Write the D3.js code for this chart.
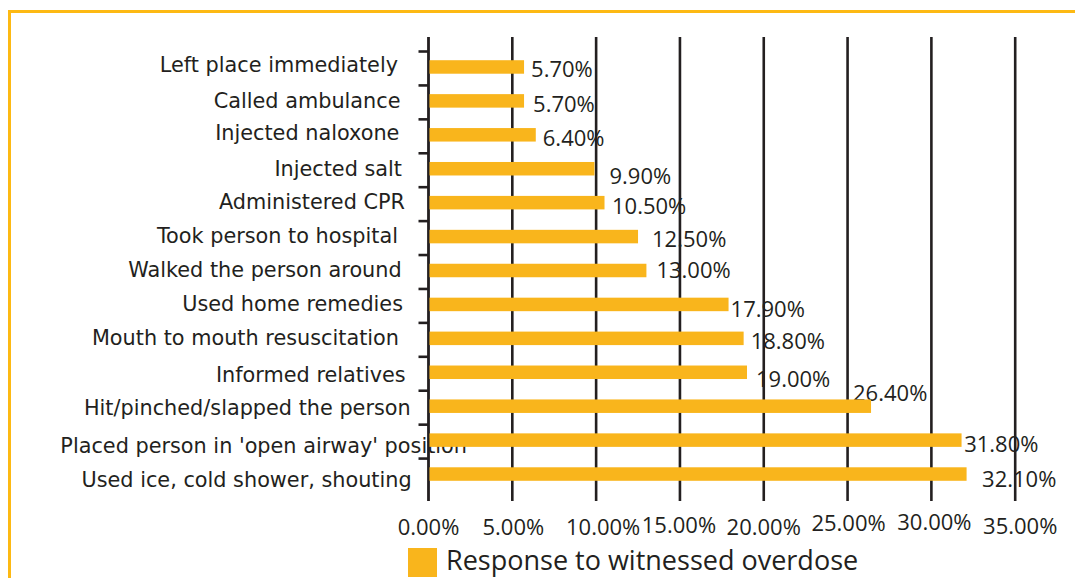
<!DOCTYPE html>
<html>
<head>
<meta charset="utf-8">
<script src="https://cdn.jsdelivr.net/npm/d3@7"></script>
<style>
  html, body { margin: 0; padding: 0; background: #ffffff; }
  svg { display: block; }
</style>
</head>
<body>
<svg id="chart" width="1075" height="578"></svg>
<script>
// ---- data ----
const categories = [
  "Left place immediately",
  "Called ambulance",
  "Injected naloxone",
  "Injected salt",
  "Administered CPR",
  "Took person to hospital",
  "Walked the person around",
  "Used home remedies",
  "Mouth to mouth resuscitation",
  "Informed relatives",
  "Hit/pinched/slapped the person",
  "Placed person in 'open airway' position",
  "Used ice, cold shower, shouting"
];
const values = [5.7, 5.7, 6.4, 9.9, 10.5, 12.5, 13.0, 17.9, 18.8, 19.0, 26.4, 31.8, 32.1];
const valueLabels = ["5.70%", "5.70%", "6.40%", "9.90%", "10.50%", "12.50%", "13.00%",
                     "17.90%", "18.80%", "19.00%", "26.40%", "31.80%", "32.10%"];
const tickValues = [0, 5, 10, 15, 20, 25, 30, 35];
const tickLabels = ["0.00%", "5.00%", "10.00%", "15.00%", "20.00%", "25.00%", "30.00%", "35.00%"];
const seriesName = "Response to witnessed overdose";

// ---- layout / style (not data) ----
const valueLabelNudge = [[7,10],[9,11],[7,11],[15,15],[7.5,11],[14,10],[10,7],[2,13],[7,11],[9,15],[-18,-5],[2.6,12],[15.5,12.5]];
const catLabelNudge = [[-2,5],[0.5,7],[-0.6,5],[2,7],[5,6],[-2,6.5],[1.7,6.5],[3,6.3],[-1,6.6],[5.7,9.4],[10.7,8.8],[67,12.6],[11.7,12.7]];
const tickLabelNudge = [[0,0],[1,0],[7,0],[-1,-2],[0,0],[1,-4],[3,-5],[5,-1]];

const barColor = "#F9B51C";
const frameColor = "#FDB913";
const ink = "#231F20";

const svg = d3.select("#chart");

// frame
svg.append("rect")
  .attr("x", 9.5).attr("y", 11.5)
  .attr("width", 1200).attr("height", 700)
  .attr("fill", "none")
  .attr("stroke", frameColor)
  .attr("stroke-width", 3);

const x = d3.scaleLinear().domain([0, 35]).range([428.5, 1015.2]);
const y = d3.scaleBand().domain(categories).range([50, 491]).paddingInner(0).paddingOuter(0);
const barH = 13.5;
const axisTop = 37, axisBottom = 501;

// category labels (under everything)
svg.append("g").selectAll("text")
  .data(categories)
  .join("text")
  .attr("x", (d, i) => 400 + catLabelNudge[i][0])
  .attr("y", (d, i) => y(d) + y.bandwidth() / 2 + catLabelNudge[i][1])
  .attr("text-anchor", "end")
  .attr("font-family", "'DejaVu Sans', sans-serif")
  .attr("font-size", 20.8)
  .attr("fill", ink)
  .text(d => d);

// value labels
svg.append("g").selectAll("text")
  .data(values)
  .join("text")
  .attr("x", (d, i) => x(d) + valueLabelNudge[i][0])
  .attr("y", (d, i) => y(categories[i]) + y.bandwidth() / 2 + valueLabelNudge[i][1])
  .attr("font-family", "'Open Sans', sans-serif")
  .attr("font-size", 22)
  .attr("fill", ink)
  .text((d, i) => valueLabels[i]);

// gridlines
svg.append("g").selectAll("line")
  .data(tickValues.slice(1))
  .join("line")
  .attr("x1", d => x(d)).attr("x2", d => x(d))
  .attr("y1", axisTop).attr("y2", axisBottom)
  .attr("stroke", ink)
  .attr("stroke-width", 2.6);

// x tick labels
svg.append("g").selectAll("text")
  .data(tickValues)
  .join("text")
  .attr("x", (d, i) => x(d) + tickLabelNudge[i][0])
  .attr("y", (d, i) => 535 + tickLabelNudge[i][1])
  .attr("text-anchor", "middle")
  .attr("font-family", "'Open Sans', sans-serif")
  .attr("font-size", 22)
  .attr("fill", ink)
  .text((d, i) => tickLabels[i]);

// y axis line and ticks (ticks at band boundaries)
const yAxisG = svg.append("g");
yAxisG.append("line")
  .attr("x1", x(0)).attr("x2", x(0))
  .attr("y1", axisTop).attr("y2", axisBottom)
  .attr("stroke", ink).attr("stroke-width", 2.8);
yAxisG.selectAll("line.tick")
  .data(categories)
  .join("line")
  .attr("class", "tick")
  .attr("x1", x(0) - 10).attr("x2", x(0))
  .attr("y1", d => y(d) + 1.5).attr("y2", d => y(d) + 1.5)
  .attr("stroke", ink).attr("stroke-width", 2.6);

// bars
svg.append("g").selectAll("rect")
  .data(values)
  .join("rect")
  .attr("x", x(0) + 1)
  .attr("y", (d, i) => y(categories[i]) + y.bandwidth() / 2 - barH / 2)
  .attr("width", d => x(d) - x(0) - 1)
  .attr("height", barH)
  .attr("fill", barColor);

// legend
const lg = svg.append("g");
lg.append("rect")
  .attr("x", 408).attr("y", 548)
  .attr("width", 29).attr("height", 29)
  .attr("fill", barColor);
lg.append("text")
  .attr("x", 446).attr("y", 570)
  .attr("font-family", "'Open Sans', sans-serif")
  .attr("font-size", 27)
  .attr("fill", ink)
  .text(seriesName);
</script>
</body>
</html>
